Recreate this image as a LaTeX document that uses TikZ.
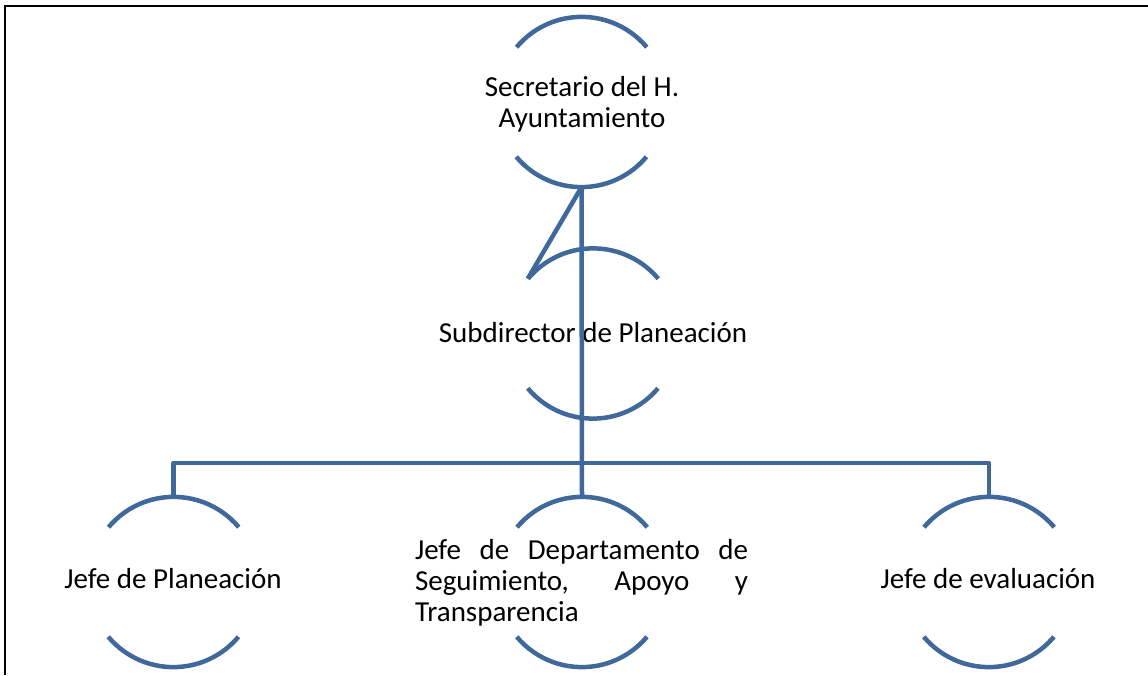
\documentclass[tikz,border=0pt]{standalone}
\usepackage{fontspec}
\setmainfont{Carlito}
\definecolor{lineblue}{RGB}{64,104,154}
\begin{document}
\begin{tikzpicture}[x=1pt,y=1pt,
  holder/.style={circle,minimum size=170pt,inner sep=0pt,draw=none},
  rim/.style={draw=lineblue,line width=4.5pt},
  link/.style={draw=lineblue,line width=4.5pt,line join=round},
  label/.style={font=\fontsize{29}{31}\selectfont,text=black,inner sep=0pt}]
\useasboundingbox (0,0) rectangle (1148,675);
% frame
\draw[line width=2pt,black] (5,0) -- (5,668.5) -- (1148,668.5);
% shape holders
\node[holder] (sec) at (581.5,573) {};
\node[holder] (sub) at (593,341.5) {};
\node[holder] (jp) at (173.5,93) {};
\node[holder] (jd) at (582,93) {};
\node[holder] (je) at (989,93) {};
% arcs
\foreach \n in {sec,sub,jp,jd,je}{
  \draw[rim] (\n.40) arc (40:140:85pt);
  \draw[rim] (\n.220) arc (220:320:85pt);
}
% texts
\node[label,align=center] (secT) at (582,571) {Secretario del H.\\Ayuntamiento};
\node[label,anchor=base] (subT) at (593,332) {Subdirector de Planeación};
\node[label,anchor=base] (jpT) at (173,87) {Jefe de Planeación};
\node[label,anchor=base] (jeT) at (988,87) {Jefe de evaluación};
\node[label,text width=333pt,align=left] (jdT) at (581.5,92)
  {\leavevmode\hbox to 333pt{Jefe\hfill de\hfill Departamento\hfill de}\\
   \leavevmode\hbox to 333pt{Seguimiento,\hfill Apoyo\hfill y}\\
   Transparencia};
% connectors
\coordinate (bar) at (582,212);
\draw[link] (sec.south) -- (jd.north);
\draw[link] (sec.south) -- (sub.140);
\draw[link] (jp.north) |- (bar) -| (je.north);
\end{tikzpicture}
\end{document}
